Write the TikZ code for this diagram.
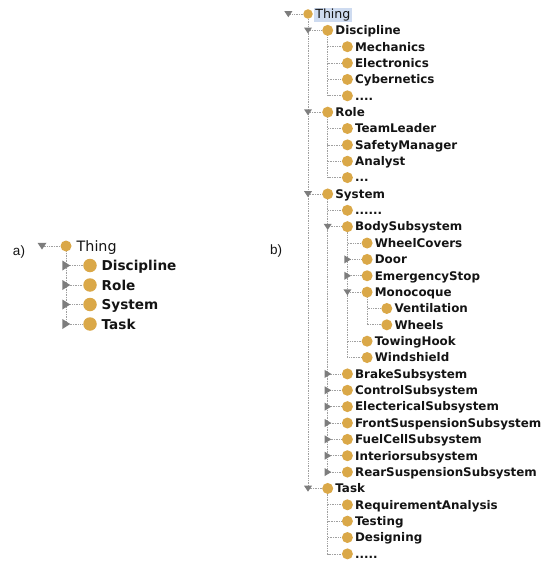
\documentclass[tikz,border=0pt]{standalone}
\usepackage{fontspec}
\setmainfont{DejaVu Sans}
\newfontfamily\labelfont{Liberation Sans}
\usetikzlibrary{backgrounds}
\definecolor{ball}{RGB}{218,168,72}
\definecolor{tri}{RGB}{125,125,125}
\definecolor{treeline}{RGB}{160,160,160}
\definecolor{hl}{RGB}{206,219,240}
\definecolor{txt}{RGB}{20,20,20}
\tikzset{
  bball/.style={circle, fill=ball, minimum size=11pt, inner sep=0pt},
  aball/.style={circle, fill=ball, minimum size=13.5pt, inner sep=0pt},
  btext/.style={anchor=base west, inner sep=0pt, text=txt, font=\fontsize{11.9}{12}\selectfont\bfseries},
  atext/.style={anchor=base west, inner sep=0pt, text=txt, font=\fontsize{13.6}{14}\selectfont\bfseries},
  conn/.style={draw=treeline, line width=0.7pt, dash pattern=on 1pt off 0.7pt},
  sublabel/.style={inner sep=0pt, text=txt, font=\labelfont\fontsize{13.5}{14}\selectfont},
}
% b) class: name, level, row, text
\newcommand\bcls[4]{%
  \node[bball] (#1) at ({308+19.7*#2},{14+16.36*#3}) {};
  \node[btext] (#1-t) at ([xshift=7.5pt,yshift=-4.3pt]#1.center) {#4};}
% b) triangles: level, row
\newcommand\bdown[2]{\fill[tri, shift={({308+19.7*(#1-1)},{14+16.36*#2})}] (-4,-2.8) -- (4,-2.8) -- (0,3.2) -- cycle;}
\newcommand\bright[2]{\fill[tri, shift={({308+19.7*(#1-1)},{14+16.36*#2})}] (-3,-4) -- (-3,4) -- (3.6,0) -- cycle;}
\newcommand\adown[2]{\fill[tri, shift={(#1,#2)}] (-4.5,-3.2) -- (4.5,-3.2) -- (0,3.6) -- cycle;}
\newcommand\aright[2]{\fill[tri, shift={(#1,#2)}] (-3.6,-5) -- (-3.6,5) -- (4.2,0) -- cycle;}
\begin{document}
\begin{tikzpicture}[x=1pt, y=-1pt]
\useasboundingbox (0,0) rectangle (542,561);

% ---------------- a) ----------------
\node[sublabel] (la) at (19,252) {a)};
\node[aball, minimum size=11pt] (athing) at (66,246) {};
\node[anchor=base west, inner sep=0pt, text=txt, font=\fontsize{14.3}{15}\selectfont] (athing-t) at ([xshift=10.5pt,yshift=-5pt]athing.center) {Thing};
\coordinate (athing-h) at (42,246);
\node[aball] (adisc) at (90,265.5) {};
\node[aball] (arole) at (90,285) {};
\node[aball] (asys) at (90,304.5) {};
\node[aball] (atask) at (90,324) {};
\node[atext] (adisc-t) at ([xshift=11.5pt,yshift=-5pt]adisc.center) {Discipline};
\node[atext] (arole-t) at ([xshift=11.5pt,yshift=-5pt]arole.center) {Role};
\node[atext] (asys-t) at ([xshift=11.5pt,yshift=-5pt]asys.center) {System};
\node[atext] (atask-t) at ([xshift=11.5pt,yshift=-5pt]atask.center) {Task};
\begin{scope}[on background layer]
  \draw[conn] (athing-h) -- (athing);
  \foreach \c in {adisc,arole,asys,atask} \draw[conn] (athing.center) |- (\c);
\end{scope}
\adown{42}{246}
\aright{66}{265.5}
\aright{66}{285}
\aright{66}{304.5}
\aright{66}{324}

% ---------------- b) ----------------
\node[sublabel] (lb) at (276,251) {b)};
\node[bball, minimum size=9.5pt] (thing) at (308,14) {};
\node[anchor=base west, inner xsep=1.6pt, inner ysep=0.6pt, fill=hl, text=txt, font=\fontsize{12.6}{13}\selectfont] (thing-t) at ([xshift=5.5pt,yshift=-4.6pt]thing.center) {Thing};
\coordinate (thing-h) at (287,14);

\bcls{disc}{1}{1}{Discipline}
\bcls{mech}{2}{2}{Mechanics}
\bcls{elec}{2}{3}{Electronics}
\bcls{cyb}{2}{4}{Cybernetics}
\bcls{discx}{2}{5}{....}
\bcls{role}{1}{6}{Role}
\bcls{team}{2}{7}{TeamLeader}
\bcls{safe}{2}{8}{SafetyManager}
\bcls{anal}{2}{9}{Analyst}
\bcls{rolex}{2}{10}{...}
\bcls{sys}{1}{11}{System}
\bcls{sysx}{2}{12}{......}
\bcls{body}{2}{13}{BodySubsystem}
\bcls{wcov}{3}{14}{WheelCovers}
\bcls{door}{3}{15}{Door}
\bcls{emer}{3}{16}{EmergencyStop}
\bcls{mono}{3}{17}{Monocoque}
\bcls{vent}{4}{18}{Ventilation}
\bcls{whee}{4}{19}{Wheels}
\bcls{tow}{3}{20}{TowingHook}
\bcls{wind}{3}{21}{Windshield}
\bcls{brake}{2}{22}{BrakeSubsystem}
\bcls{ctrl}{2}{23}{ControlSubsystem}
\bcls{elsub}{2}{24}{ElectericalSubsystem}
\bcls{front}{2}{25}{FrontSuspensionSubsystem}
\bcls{fuel}{2}{26}{FuelCellSubsystem}
\bcls{inter}{2}{27}{Interiorsubsystem}
\bcls{rear}{2}{28}{RearSuspensionSubsystem}
\bcls{task}{1}{29}{Task}
\bcls{req}{2}{30}{RequirementAnalysis}
\bcls{test}{2}{31}{Testing}
\bcls{des}{2}{32}{Designing}
\bcls{taskx}{2}{33}{.....}

\begin{scope}[on background layer]
  \draw[conn] (thing-h) -- (thing);
  \foreach \c in {disc,role,sys,task} \draw[conn] (thing.center) |- (\c);
  \foreach \c in {mech,elec,cyb,discx} \draw[conn] (disc.center) |- (\c);
  \foreach \c in {team,safe,anal,rolex} \draw[conn] (role.center) |- (\c);
  \foreach \c in {sysx,body,brake,ctrl,elsub,front,fuel,inter,rear} \draw[conn] (sys.center) |- (\c);
  \foreach \c in {wcov,door,emer,mono,tow,wind} \draw[conn] (body.center) |- (\c);
  \foreach \c in {vent,whee} \draw[conn] (mono.center) |- (\c);
  \foreach \c in {req,test,des,taskx} \draw[conn] (task.center) |- (\c);
\end{scope}

\bdown{0}{0}
\bdown{1}{1}
\bdown{1}{6}
\bdown{1}{11}
\bdown{2}{13}
\bright{3}{15}
\bright{3}{16}
\bdown{3}{17}
\bright{2}{22}
\bright{2}{23}
\bright{2}{24}
\bright{2}{25}
\bright{2}{26}
\bright{2}{27}
\bright{2}{28}
\bdown{1}{29}
\end{tikzpicture}
\end{document}
